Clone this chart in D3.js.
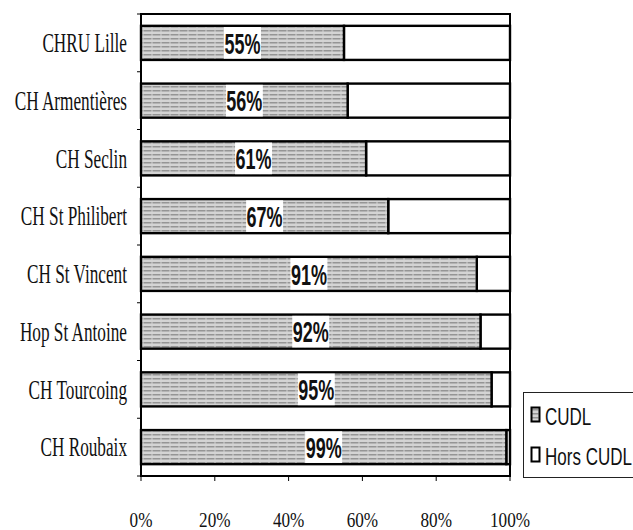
<!DOCTYPE html>
<html><head><meta charset="utf-8">
<script src="https://cdn.jsdelivr.net/npm/d3@7"></script>
<style>body{margin:0;background:#fff}svg{display:block}</style>
</head><body>
<svg id="c" width="633" height="530"></svg>
<script>
const categories = ["CHRU Lille","CH Armentières","CH Seclin","CH St Philibert","CH St Vincent","Hop St Antoine","CH Tourcoing","CH Roubaix"];
const cudl = [55,56,61,67,91,92,95,99];
const horsCudl = [45,44,39,33,9,8,5,1];
const xTicks = [0,20,40,60,80,100];
const seriesNames = ["CUDL","Hors CUDL"];

const svg = d3.select("#c");
const L = 141, R = 510, T = 14, B = 476;

const defs = svg.append("defs");
const pat = defs.append("pattern").attr("id","tex").attr("patternUnits","userSpaceOnUse")
  .attr("width",9).attr("height",4);
pat.append("rect").attr("width",9).attr("height",4).attr("fill","#d4d4d4");
pat.append("rect").attr("x",0).attr("y",2).attr("width",7).attr("height",1.5).attr("fill","#959595");
pat.append("rect").attr("x",7).attr("y",2).attr("width",2).attr("height",1.5).attr("fill","#b4b4b4");

const x = d3.scaleLinear().domain([0,100]).range([L,R]);
const y = d3.scaleBand().domain(categories).range([T,B]).paddingInner(0.41).paddingOuter(0.205);

const rows = categories.map((c,i)=>({c, a:cudl[i], b:horsCudl[i]}));

// Plot border
svg.append("rect").attr("x",L).attr("y",T).attr("width",R-L).attr("height",B-T)
  .attr("fill","#fff").attr("stroke","#000").attr("stroke-width",2);

const g = svg.append("g");
g.selectAll("rect.h").data(rows).join("rect").attr("class","h")
  .attr("x",d=>x(d.a)).attr("y",d=>y(d.c)).attr("width",d=>x(d.a+d.b)-x(d.a)).attr("height",y.bandwidth())
  .attr("fill","#fff").attr("stroke","#000").attr("stroke-width",2.4);
g.selectAll("rect.a").data(rows).join("rect").attr("class","a")
  .attr("x",x(0)).attr("y",d=>y(d.c)).attr("width",d=>x(d.a)-x(0)).attr("height",y.bandwidth())
  .attr("fill","url(#tex)").attr("stroke","#000").attr("stroke-width",2.4);

const lab = g.selectAll("g.lab").data(rows).join("g").attr("class","lab")
  .attr("transform",d=>`translate(${x(d.a/2)},${y(d.c)+y.bandwidth()/2})`);
lab.append("rect").attr("x",-18.5).attr("y",-y.bandwidth()/2+1.2).attr("width",37).attr("height",y.bandwidth()-2.4).attr("fill","#fff");
lab.append("text").attr("transform","scale(0.6,1)").attr("text-anchor","middle").attr("dy","0.36em")
  .attr("font-family","Liberation Sans, Arial, sans-serif").attr("font-weight","bold").attr("font-size",30)
  .attr("fill","#111").text(d=>d.a+"%");

const bounds = d3.range(categories.length+1).map(i=> i===0?T:(i===categories.length?B: y(categories[i]) - y.step()*y.paddingInner()/2));
svg.selectAll("line.yt").data(bounds).join("line").attr("class","yt")
  .attr("x1",L-4).attr("x2",L).attr("y1",d=>d).attr("y2",d=>d).attr("stroke","#000").attr("stroke-width",1);
svg.selectAll("text.cat").data(categories).join("text").attr("class","cat")
  .attr("transform",d=>`translate(127,${y(d)+y.bandwidth()/2}) scale(0.65,1)`)
  .attr("text-anchor","end").attr("dy","0.35em")
  .attr("font-family","Liberation Serif, Times New Roman, serif").attr("font-size",26.5).attr("fill","#111")
  .text(d=>d);

svg.selectAll("line.xt").data(xTicks).join("line").attr("class","xt")
  .attr("x1",d=>x(d)).attr("x2",d=>x(d)).attr("y1",B).attr("y2",B+5).attr("stroke","#000").attr("stroke-width",1);
svg.selectAll("text.xl").data(xTicks).join("text").attr("class","xl")
  .attr("transform",d=>`translate(${x(d)},527) scale(0.78,1)`)
  .attr("text-anchor","middle")
  .attr("font-family","Liberation Serif, Times New Roman, serif").attr("font-size",22).attr("fill","#111")
  .text(d=>d+"%");

const lg = svg.append("g");
lg.append("rect").attr("x",523.5).attr("y",392.5).attr("width",130).attr("height",85)
  .attr("fill","#fff").attr("stroke","#222").attr("stroke-width",1);
const items = lg.selectAll("g.it").data(seriesNames).join("g").attr("class","it")
  .attr("transform",(d,i)=>`translate(531,${407+i*40})`);
items.append("rect").attr("x",0.5).attr("y",0.5).attr("width",8).attr("height",14)
  .attr("fill",(d,i)=>i===0?"url(#tex)":"#fff").attr("stroke","#000").attr("stroke-width",2);
items.append("text").attr("transform","translate(14,18) scale(0.74,1)")
  .attr("font-family","Liberation Sans, Arial, sans-serif").attr("font-size",23).attr("fill","#111")
  .text(d=>d);
</script>
</body></html>
